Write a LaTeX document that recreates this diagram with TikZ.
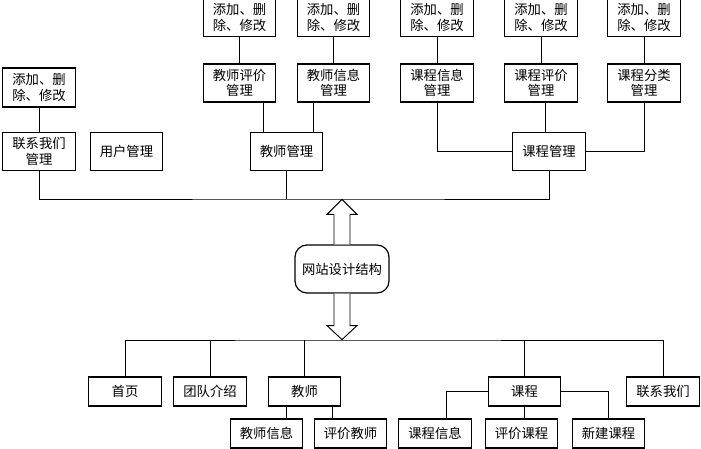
\documentclass[tikz,border=0pt]{standalone}
\usepackage{fontspec}
\setmainfont{Noto Sans CJK SC}
\usetikzlibrary{calc}

\begin{document}
\begin{tikzpicture}[x=.75pt,y=-.75pt,
 box/.style={draw,line width=.9pt,minimum width=54.5pt,minimum height=28.5pt,inner sep=1pt,align=center,font=\fontsize{10}{11.8}\selectfont},
 leaf/.style={box,minimum height=21.75pt},
 link/.style={line width=.7pt}]
\useasboundingbox (0,0) rectangle (701,449);
\node[box,minimum height=29.25pt] (add0) at (39,87.5) {添加、删\\除、修改};
\node[box] (lxgl) at (39,151.5) {联系我们\\管理};
\node[box] (yhgl) at (126.5,151.5) {用户管理};
\node[box] (jsgl) at (286.5,151.5) {教师管理};
\node[box] (jspj) at (239.5,83) {教师评价\\管理};
\node[box] (jsxx) at (333.5,83) {教师信息\\管理};
\node[box] (kcxx) at (437,83) {课程信息\\管理};
\node[box] (kcpj) at (541,83) {课程评价\\管理};
\node[box] (kcfl) at (644,83) {课程分类\\管理};
\node[box] (kcgl) at (549,151.5) {课程管理};
\foreach \m in {jspj,jsxx,kcxx,kcpj,kcfl} {
 \node[box,anchor=south] (add-\m) at ($(\m.north)+(0,-26)$) {添加、删\\除、修改};
 \draw[link] (add-\m) -- (\m);
}
\draw[link] (add0) -- (lxgl);
\draw[link] ($(jspj.south)+(24,0)$) coordinate (p1) -- (p1 |- jsgl.north);
\draw[link] ($(jsxx.south)+(-20,0)$) coordinate (p2) -- (p2 |- jsgl.north);
\draw[link] (kcxx.south) |- (kcgl.west);
\draw[link] (kcfl.south) |- (kcgl.east);
\draw[link] ($(kcpj.south)+(4,0)$) coordinate (p3) -- (p3 |- kcgl.north);

\node[box,rounded corners=9pt,minimum width=70.5pt,minimum height=36pt] (root) at (342,269) {网站设计结构};
\coordinate (bus1) at (342,199);
\coordinate (bus2) at (342,340);
\draw[link] (lxgl.south) |- (bus1) -| (kcgl.south);
\draw[link] (jsgl.south) -- (jsgl.south |- bus1);
\draw[link,fill=white] ($(root.north)+(-8,0)$) -- ++(0,-30) -- ++(-7,0) -- ++(15,-15) -- ++(15,15) -- ++(-7,0) -- ++(0,30);
\draw[link,fill=white] ($(root.south)+(-8,0)$) -- ++(0,32) -- ++(-7,0) -- ++(15,14) -- ++(15,-14) -- ++(-7,0) -- ++(0,-32);

\node[leaf] (sy) at (125,391.5) {首页};
\node[leaf] (tdjs) at (210,391.5) {团队介绍};
\node[leaf] (js) at (304.5,391.5) {教师};
\node[leaf] (kc) at (524.5,391.5) {课程};
\node[leaf] (lxwm) at (663,391.5) {联系我们};
\node[leaf] (jsxx2) at (266.5,433.5) {教师信息};
\node[leaf] (pjjs) at (350.5,433.5) {评价教师};
\node[leaf] (kcxx2) at (435,433.5) {课程信息};
\node[leaf] (pjkc) at (521.5,433.5) {评价课程};
\node[leaf] (xjkc) at (608.5,433.5) {新建课程};
\draw[link] (sy.north) |- (bus2) -| (lxwm.north);
\foreach \m in {tdjs,js,kc} \draw[link] (\m.north) -- (\m.north |- bus2);
\draw[link] ($(js.south)+(-18,0)$) coordinate (p4) -- (p4 |- jsxx2.north);
\draw[link] ($(js.south)+(28,0)$) coordinate (p5) -- (p5 |- pjjs.north);
\draw[link] (kc.west) -| ($(kcxx2.north)+(11,0)$);
\draw[link] (kc.south) -- (kc.south |- pjkc.north);
\draw[link] (kc.east) -| (xjkc.north);
\end{tikzpicture}
\end{document}
